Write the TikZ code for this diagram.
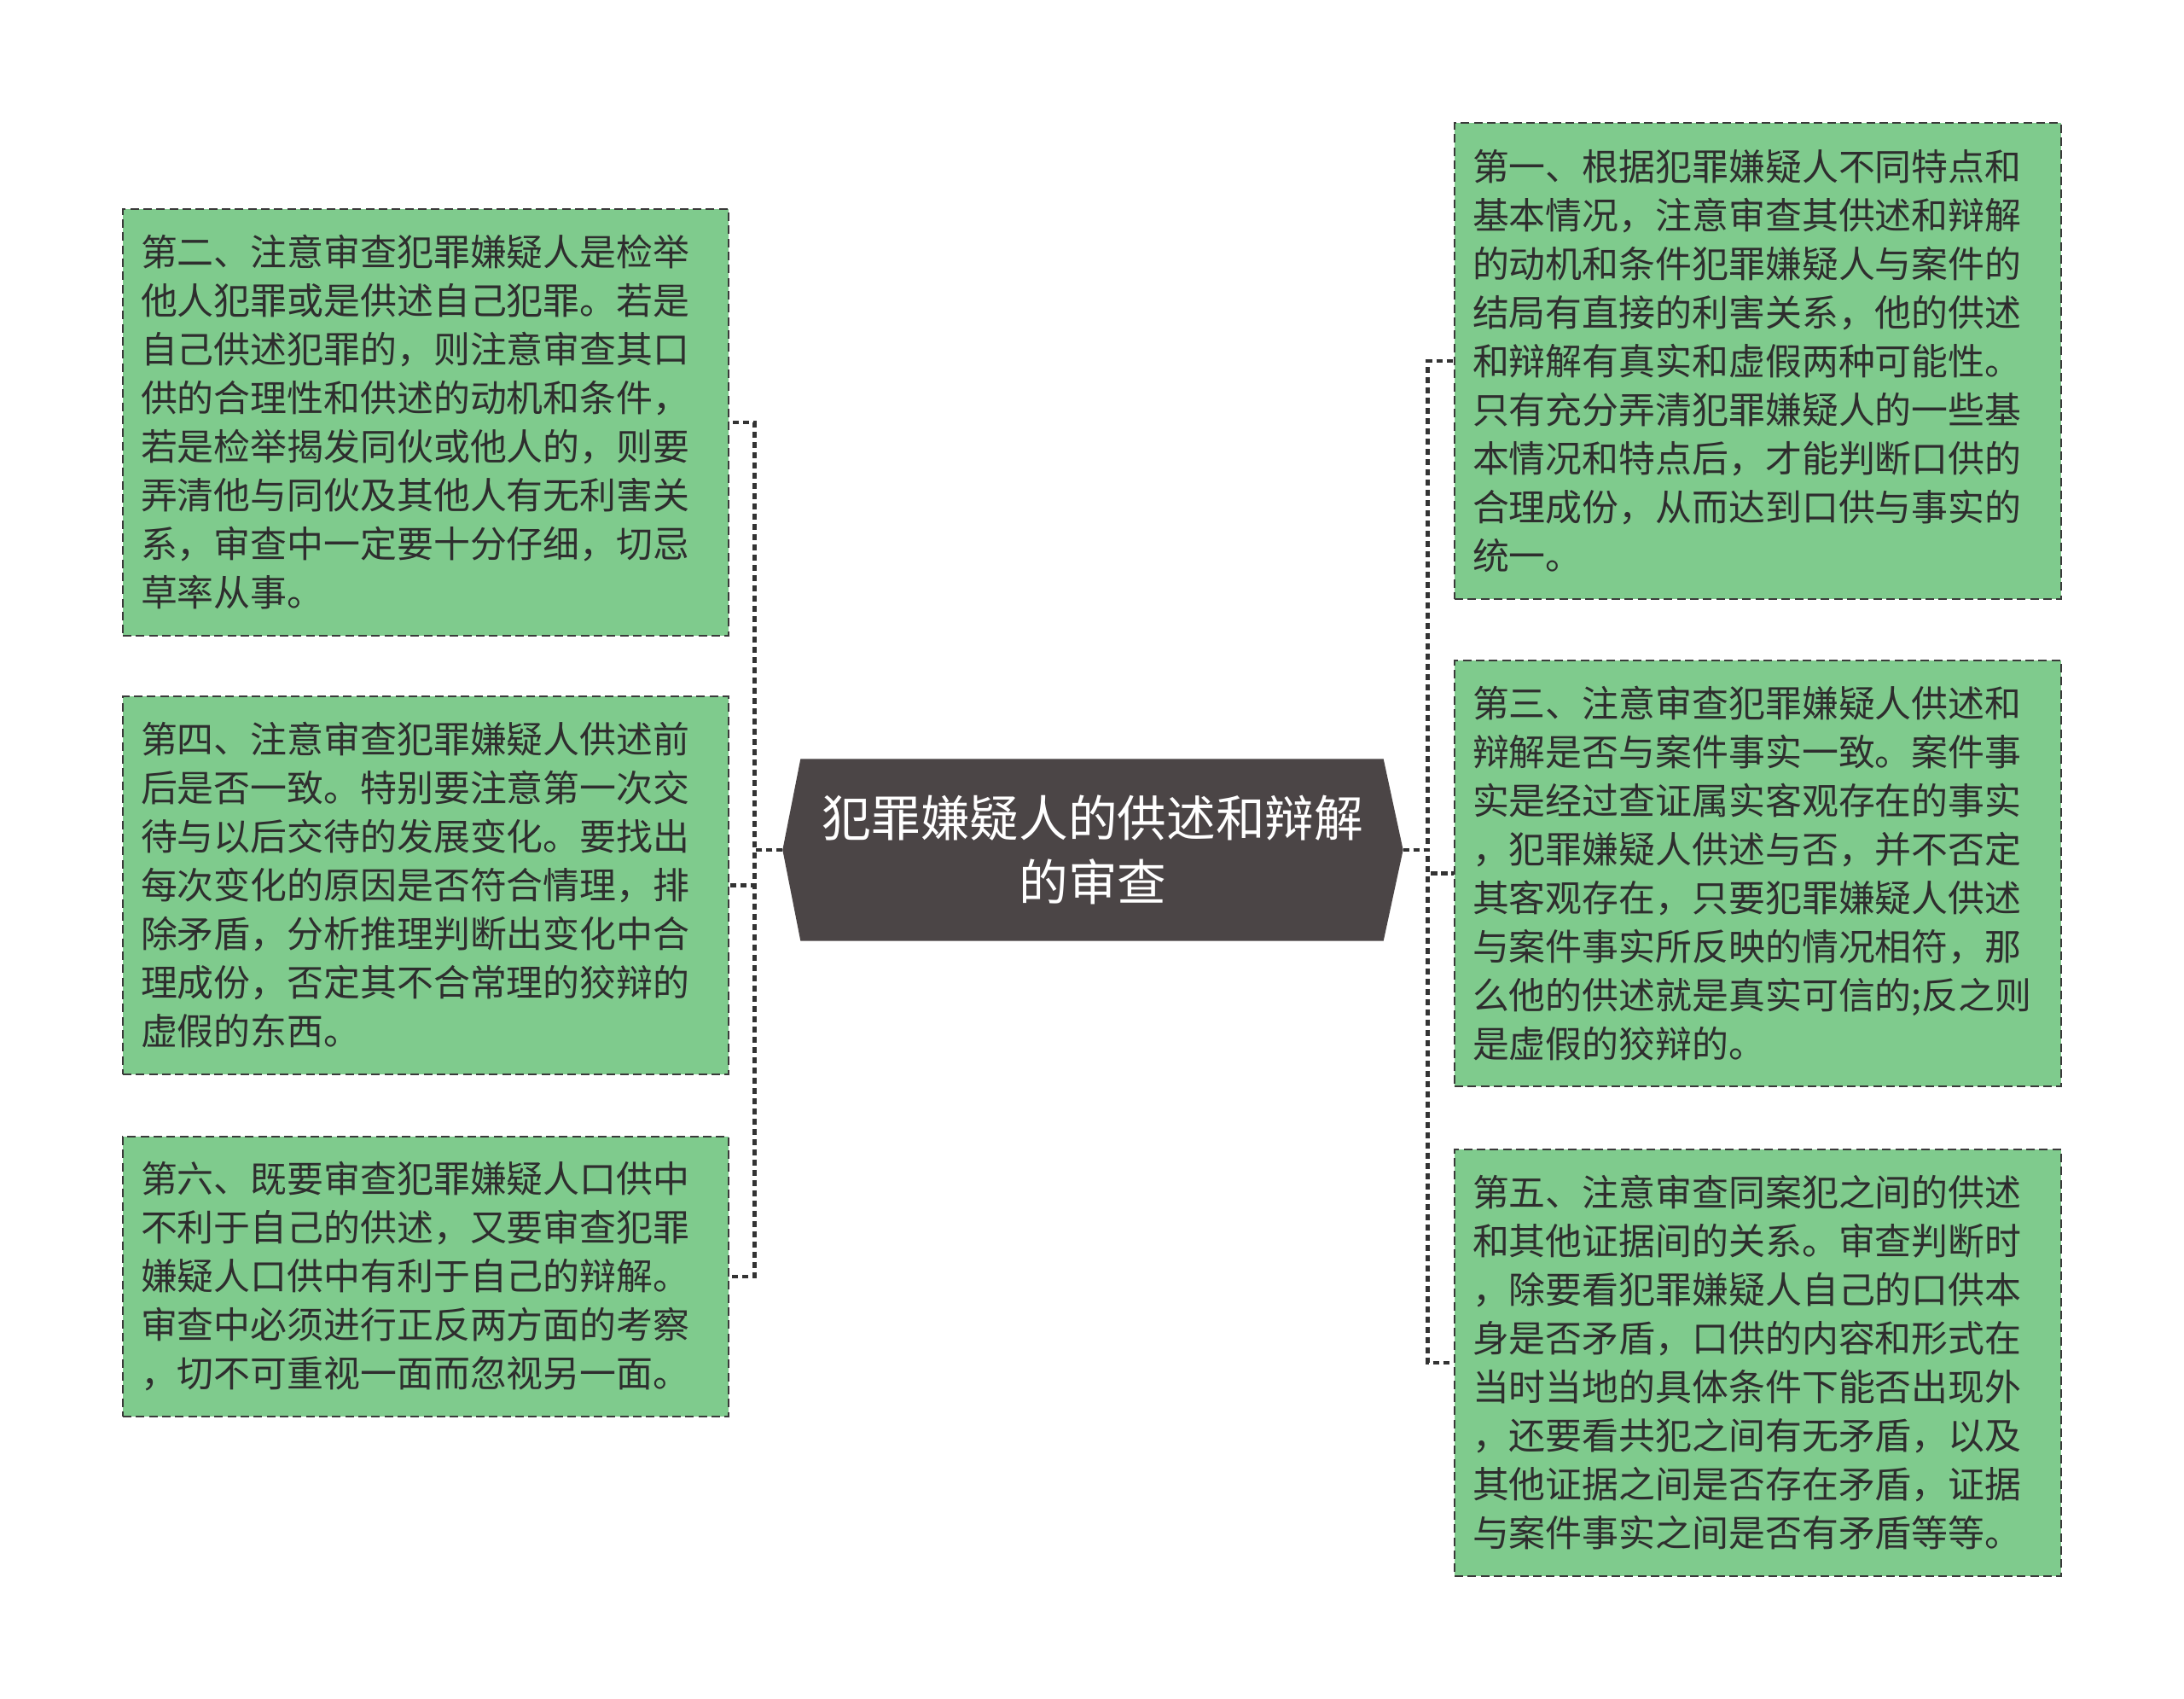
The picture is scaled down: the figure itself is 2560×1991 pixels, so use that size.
\documentclass[tikz,border=0pt]{standalone}
\usepackage{fontspec}
\newfontfamily\cjk{Noto Sans CJK SC}
\usetikzlibrary{calc}
\definecolor{boxgreen}{HTML}{7FCB8D}
\definecolor{boxline}{HTML}{3A3A3A}
\definecolor{boxtext}{HTML}{2E2E2E}
\definecolor{centerfill}{HTML}{4B4546}
\definecolor{connline}{HTML}{333333}
\tikzset{
  leaf/.style={draw=boxline, fill=boxgreen, line width=0.85pt,
    dash pattern=on 3pt off 1.6pt, text=boxtext,
    font=\cjk\fontsize{12.87pt}{17.1pt}\selectfont,
    align=left, inner sep=0pt, anchor=center},
  conn/.style={draw=connline, line width=1.4pt, dash pattern=on 2.2pt off 1.4pt},
}
\begin{document}
\begin{tikzpicture}[x=0.3pt,y=-0.3pt]
\useasboundingbox (0,0) rectangle (2560,1991);
\fill[white] (0,0) rectangle (2560,1991);

% centre node
\node[minimum width=217.8pt, minimum height=63.6pt, inner sep=0pt] (c) at (1281,996) {};
\fill[centerfill] (c.west) -- ($(c.north west)+(21,0)$) -- ($(c.north east)+(-23,0)$)
  -- (c.east) -- ($(c.south east)+(-23,0)$) -- ($(c.south west)+(21,0)$) -- cycle;
\node[text=white, font=\cjk\fontsize{17.3pt}{22.5pt}\selectfont, align=center] (ct) at (c.center)
  {犯罪嫌疑人的供述和辩解\\的审查};

% left boxes
\node[leaf, minimum width=213pt, minimum height=150pt, text width=200.4pt] (l1) at (499,495)
{第二、注意审查犯罪嫌疑人是检举\\他人犯罪或是供述自己犯罪。若是\\自己供述犯罪的，则注意审查其口\\供的合理性和供述的动机和条件，\\若是检举揭发同伙或他人的，则要\\弄清他与同伙及其他人有无利害关\\系，审查中一定要十分仔细，切忌\\草率从事。};
\node[leaf, minimum width=213pt, minimum height=132.9pt, text width=200.4pt] (l2) at (499,1037.5)
{第四、注意审查犯罪嫌疑人供述前\\后是否一致。特别要注意第一次交\\待与以后交待的发展变化。要找出\\每次变化的原因是否符合情理，排\\除矛盾，分析推理判断出变化中合\\理成份，否定其不合常理的狡辩的\\虚假的东西。};
\node[leaf, minimum width=213pt, minimum height=98.4pt, text width=200.4pt] (l3) at (499,1496)
{第六、既要审查犯罪嫌疑人口供中\\不利于自己的供述，又要审查犯罪\\嫌疑人口供中有利于自己的辩解。\\审查中必须进行正反两方面的考察\\，切不可重视一面而忽视另一面。};

% right boxes
\node[leaf, minimum width=213.3pt, minimum height=167.4pt, text width=200.7pt] (r1) at (2060.5,423)
{第一、根据犯罪嫌疑人不同特点和\\基本情况，注意审查其供述和辩解\\的动机和条件犯罪嫌疑人与案件的\\结局有直接的利害关系，他的供述\\和辩解有真实和虚假两种可能性。\\只有充分弄清犯罪嫌疑人的一些基\\本情况和特点后，才能判断口供的\\合理成份，从而达到口供与事实的\\统一。};
\node[leaf, minimum width=213.3pt, minimum height=149.7pt, text width=200.7pt] (r2) at (2060.5,1023.5)
{第三、注意审查犯罪嫌疑人供述和\\辩解是否与案件事实一致。案件事\\实是经过查证属实客观存在的事实\\，犯罪嫌疑人供述与否，并不否定\\其客观存在，只要犯罪嫌疑人供述\\与案件事实所反映的情况相符，那\\么他的供述就是真实可信的;反之则\\是虚假的狡辩的。};
\node[leaf, minimum width=213.3pt, minimum height=150pt, text width=200.7pt] (r3) at (2060.5,1597)
{第五、注意审查同案犯之间的供述\\和其他证据间的关系。审查判断时\\，除要看犯罪嫌疑人自己的口供本\\身是否矛盾，口供的内容和形式在\\当时当地的具体条件下能否出现外\\，还要看共犯之间有无矛盾，以及\\其他证据之间是否存在矛盾，证据\\与案件事实之间是否有矛盾等等。};

% connectors
\foreach \n in {l1,l2,l3}{
  \draw[conn] (c.west) -- ++(-33,0) |- (\n.east);
}
\foreach \n in {r1,r2,r3}{
  \draw[conn] (c.east) -- ++(29,0) |- (\n.west);
}
\end{tikzpicture}
\end{document}
